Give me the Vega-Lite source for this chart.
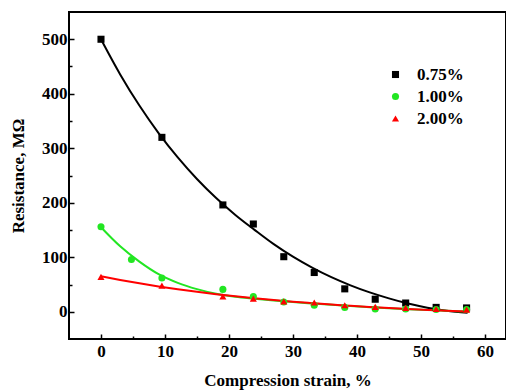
{
  "$schema": "https://vega.github.io/schema/vega-lite/v6.json",
  "autosize": "none",
  "width": 437,
  "height": 327,
  "padding": {"left": 69, "top": 12, "right": 0, "bottom": 53},
  "background": "white",
  "config": {
    "view": {"stroke": "black", "strokeWidth": 2},
    "font": "Liberation Serif"
  },
  "datasets": {
    "pts": [
      {"strain": 0, "resistance": 500, "series": "0.75%"},
      {"strain": 9.52, "resistance": 320, "series": "0.75%"},
      {"strain": 19.05, "resistance": 196, "series": "0.75%"},
      {"strain": 23.81, "resistance": 161, "series": "0.75%"},
      {"strain": 28.57, "resistance": 101, "series": "0.75%"},
      {"strain": 33.33, "resistance": 72, "series": "0.75%"},
      {"strain": 38.1, "resistance": 42, "series": "0.75%"},
      {"strain": 42.86, "resistance": 23, "series": "0.75%"},
      {"strain": 47.62, "resistance": 16, "series": "0.75%"},
      {"strain": 52.38, "resistance": 8, "series": "0.75%"},
      {"strain": 57.14, "resistance": 7, "series": "0.75%"},
      {"strain": 0, "resistance": 156, "series": "1.00%"},
      {"strain": 4.76, "resistance": 96, "series": "1.00%"},
      {"strain": 9.52, "resistance": 62, "series": "1.00%"},
      {"strain": 19.05, "resistance": 41, "series": "1.00%"},
      {"strain": 23.81, "resistance": 28, "series": "1.00%"},
      {"strain": 28.57, "resistance": 18, "series": "1.00%"},
      {"strain": 33.33, "resistance": 12, "series": "1.00%"},
      {"strain": 38.1, "resistance": 8, "series": "1.00%"},
      {"strain": 42.86, "resistance": 5, "series": "1.00%"},
      {"strain": 47.62, "resistance": 5, "series": "1.00%"},
      {"strain": 52.38, "resistance": 4, "series": "1.00%"},
      {"strain": 57.14, "resistance": 4, "series": "1.00%"},
      {"strain": 0, "resistance": 64, "series": "2.00%"},
      {"strain": 9.52, "resistance": 48, "series": "2.00%"},
      {"strain": 19.05, "resistance": 28, "series": "2.00%"},
      {"strain": 23.81, "resistance": 24, "series": "2.00%"},
      {"strain": 28.57, "resistance": 19, "series": "2.00%"},
      {"strain": 33.33, "resistance": 17, "series": "2.00%"},
      {"strain": 38.1, "resistance": 12, "series": "2.00%"},
      {"strain": 42.86, "resistance": 9, "series": "2.00%"},
      {"strain": 47.62, "resistance": 7, "series": "2.00%"},
      {"strain": 52.38, "resistance": 5, "series": "2.00%"},
      {"strain": 57.14, "resistance": 4, "series": "2.00%"}
    ],
    "fit": [
      {"strain": 0, "resistance": 500, "curve": "a"},
      {"strain": 3, "resistance": 435.5, "curve": "a"},
      {"strain": 6, "resistance": 378.4, "curve": "a"},
      {"strain": 9, "resistance": 327.9, "curve": "a"},
      {"strain": 12, "resistance": 283.2, "curve": "a"},
      {"strain": 15, "resistance": 243.6, "curve": "a"},
      {"strain": 18, "resistance": 208.6, "curve": "a"},
      {"strain": 21, "resistance": 177.7, "curve": "a"},
      {"strain": 24, "resistance": 150.3, "curve": "a"},
      {"strain": 27, "resistance": 124, "curve": "a"},
      {"strain": 30, "resistance": 101, "curve": "a"},
      {"strain": 33, "resistance": 81, "curve": "a"},
      {"strain": 36, "resistance": 63.5, "curve": "a"},
      {"strain": 39, "resistance": 48.5, "curve": "a"},
      {"strain": 42, "resistance": 35.5, "curve": "a"},
      {"strain": 45, "resistance": 24.5, "curve": "a"},
      {"strain": 48, "resistance": 15, "curve": "a"},
      {"strain": 51, "resistance": 7.5, "curve": "a"},
      {"strain": 54, "resistance": 2, "curve": "a"},
      {"strain": 57.3, "resistance": -2, "curve": "a"},
      {"strain": 0, "resistance": 155, "curve": "b"},
      {"strain": 3, "resistance": 120, "curve": "b"},
      {"strain": 6, "resistance": 92, "curve": "b"},
      {"strain": 9, "resistance": 69, "curve": "b"},
      {"strain": 12, "resistance": 53, "curve": "b"},
      {"strain": 15, "resistance": 41.5, "curve": "b"},
      {"strain": 18, "resistance": 33, "curve": "b"},
      {"strain": 21, "resistance": 27.5, "curve": "b"},
      {"strain": 24, "resistance": 24, "curve": "b"},
      {"strain": 27, "resistance": 20.8, "curve": "b"},
      {"strain": 30, "resistance": 17.8, "curve": "b"},
      {"strain": 33, "resistance": 15.2, "curve": "b"},
      {"strain": 36, "resistance": 12.7, "curve": "b"},
      {"strain": 39, "resistance": 10.4, "curve": "b"},
      {"strain": 42, "resistance": 8.4, "curve": "b"},
      {"strain": 45, "resistance": 6.5, "curve": "b"},
      {"strain": 48, "resistance": 4.8, "curve": "b"},
      {"strain": 51, "resistance": 3.2, "curve": "b"},
      {"strain": 54, "resistance": 1.8, "curve": "b"},
      {"strain": 57.3, "resistance": 0.5, "curve": "b"},
      {"strain": 0, "resistance": 65, "curve": "c"},
      {"strain": 3, "resistance": 58.3, "curve": "c"},
      {"strain": 6, "resistance": 52.1, "curve": "c"},
      {"strain": 9, "resistance": 46.5, "curve": "c"},
      {"strain": 12, "resistance": 41.4, "curve": "c"},
      {"strain": 15, "resistance": 36.6, "curve": "c"},
      {"strain": 18, "resistance": 32.3, "curve": "c"},
      {"strain": 21, "resistance": 28.4, "curve": "c"},
      {"strain": 24, "resistance": 24.8, "curve": "c"},
      {"strain": 27, "resistance": 21.5, "curve": "c"},
      {"strain": 30, "resistance": 18.4, "curve": "c"},
      {"strain": 33, "resistance": 15.7, "curve": "c"},
      {"strain": 36, "resistance": 13.1, "curve": "c"},
      {"strain": 39, "resistance": 10.8, "curve": "c"},
      {"strain": 42, "resistance": 8.7, "curve": "c"},
      {"strain": 45, "resistance": 6.7, "curve": "c"},
      {"strain": 48, "resistance": 4.9, "curve": "c"},
      {"strain": 51, "resistance": 3.3, "curve": "c"},
      {"strain": 54, "resistance": 1.8, "curve": "c"},
      {"strain": 57.3, "resistance": 0.5, "curve": "c"}
    ]
  },
  "resolve": {"axis": {"x": "independent", "y": "independent"}},
  "layer": [
    {
      "data": {"name": "pts"},
      "mark": {"type": "point", "opacity": 0},
      "encoding": {
        "x": {"field": "strain", "type": "quantitative", "scale": {"domain": [-5, 63.3], "nice": false, "zero": false},
          "axis": {"orient": "bottom", "values": [5, 15, 25, 35, 45, 55], "labels": false, "domain": false, "grid": false, "title": null, "tickSize": -3, "tickColor": "black", "tickWidth": 1.5}},
        "y": {"field": "resistance", "type": "quantitative", "scale": {"domain": [-50, 550], "nice": false, "zero": false},
          "axis": {"orient": "left", "values": [50, 150, 250, 350, 450], "labels": false, "domain": false, "grid": false, "title": null, "tickSize": -3, "tickColor": "black", "tickWidth": 1.5}}
      }
    },
    {
      "data": {"name": "fit"},
      "mark": {"type": "line", "strokeWidth": 2, "interpolate": "monotone"},
      "encoding": {
        "x": {"field": "strain", "type": "quantitative",
          "axis": {"orient": "bottom", "values": [0, 10, 20, 30, 40, 50, 60], "domain": false, "grid": false, "tickSize": -5, "tickColor": "black", "tickWidth": 1.5,
            "labelFont": "Liberation Serif", "labelFontWeight": "bold", "labelFontSize": 17, "labelColor": "black", "labelPadding": 9,
            "title": "Compression strain, %", "titleFont": "Liberation Serif", "titleFontWeight": "bold", "titleFontSize": 17, "titleColor": "black", "titlePadding": 13}},
        "y": {"field": "resistance", "type": "quantitative",
          "axis": {"orient": "left", "values": [0, 100, 200, 300, 400, 500], "domain": false, "grid": false, "tickSize": -5, "tickColor": "black", "tickWidth": 1.5,
            "labelFont": "Liberation Serif", "labelFontWeight": "bold", "labelFontSize": 17, "labelColor": "black", "labelPadding": 7,
            "title": "Resistance, MΩ", "titleFont": "Liberation Serif", "titleFontWeight": "bold", "titleFontSize": 17, "titleColor": "black", "titlePadding": 14}},
        "stroke": {"field": "curve", "type": "nominal", "legend": null,
          "scale": {"domain": ["a", "b", "c"], "range": ["#000000", "#22e622", "#ff0000"]}},
        "order": {"field": "strain"}
      }
    },
    {
      "data": {"name": "pts"},
      "mark": {"type": "point", "filled": true, "opacity": 1, "size": 50},
      "encoding": {
        "x": {"field": "strain", "type": "quantitative", "axis": null},
        "y": {"field": "resistance", "type": "quantitative", "axis": null},
        "color": {"field": "series", "type": "nominal",
          "scale": {"domain": ["0.75%", "1.00%", "2.00%"], "range": ["#000000", "#22e622", "#ff0000"]},
          "legend": {"title": null, "orient": "none", "legendX": 318, "legendY": 54, "labelFont": "Liberation Serif", "labelFontWeight": "bold", "labelFontSize": 17, "labelColor": "black", "symbolSize": 50, "rowPadding": 4, "labelOffset": 13}},
        "shape": {"field": "series", "type": "nominal",
          "scale": {"domain": ["0.75%", "1.00%", "2.00%"], "range": ["square", "circle", "triangle-up"]}}
      }
    }
  ]
}
